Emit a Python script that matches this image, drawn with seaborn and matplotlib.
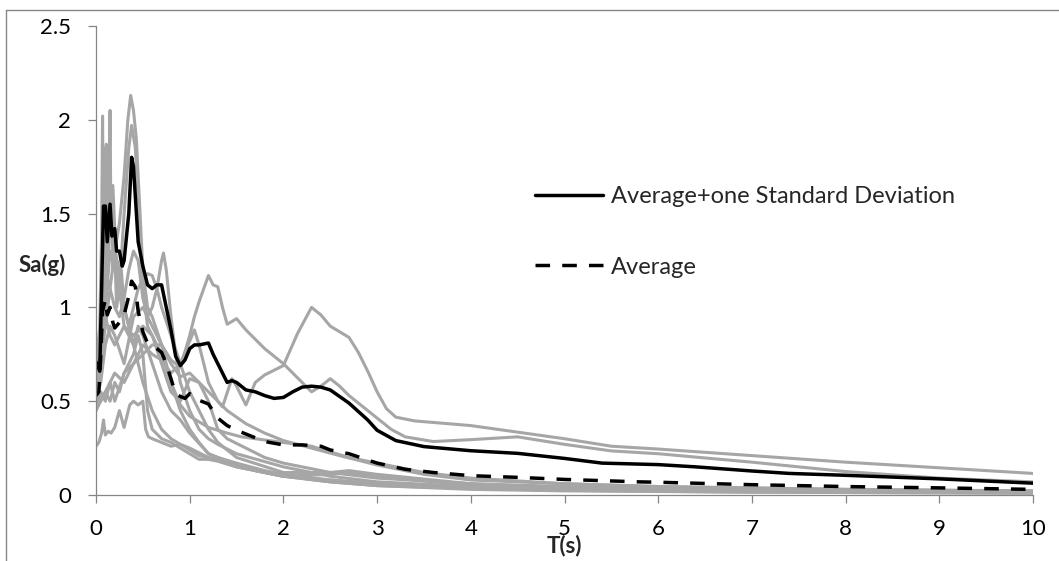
import numpy as np
import pandas as pd
import matplotlib
matplotlib.use('Agg')
import matplotlib.pyplot as plt
from matplotlib.lines import Line2D
from matplotlib.ticker import FuncFormatter
import seaborn as sns

# 개별 기록 스펙트럼 (회색)
rec_a_t = [0, 0.05, 0.1, 0.15, 0.2, 0.25, 0.3, 0.34, 0.37, 0.4, 0.43, 0.47, 0.5, 0.55, 0.6, 0.7, 0.8, 0.9,
           1.0, 1.1, 1.2, 1.3, 1.5, 1.8, 2.0, 2.5, 3.0, 4, 5, 6, 8, 10]
rec_a_sa = [0.6, 0.9, 1.2, 1.1, 1.3, 1.45, 1.7, 2.0, 2.13, 2.05, 1.9, 1.5, 1.2, 1.0, 0.95, 0.8, 0.6, 0.45,
            0.35, 0.28, 0.22, 0.2, 0.17, 0.13, 0.11, 0.08, 0.06, 0.04, 0.03, 0.025, 0.018, 0.013]

rec_b_t = [0, 0.05, 0.1, 0.15, 0.2, 0.25, 0.3, 0.35, 0.38, 0.42, 0.46, 0.5, 0.55, 0.6, 0.7, 0.8, 0.9, 1.0,
           1.1, 1.2, 1.3, 1.4, 1.6, 1.8, 2.0, 2.5, 3.0, 4, 5, 6, 8, 10]
rec_b_sa = [0.5, 0.7, 1.0, 1.3, 1.2, 1.1, 1.5, 1.85, 1.97, 1.85, 1.5, 1.1, 0.9, 0.85, 0.7, 0.55, 0.5, 0.62,
            0.6, 0.5, 0.35, 0.3, 0.25, 0.2, 0.17, 0.12, 0.09, 0.06, 0.045, 0.035, 0.025, 0.02]

rec_c_t = [0, 0.02, 0.04, 0.06, 0.07, 0.08, 0.09, 0.1, 0.11, 0.12, 0.13, 0.14, 0.15, 0.16, 0.17, 0.18, 0.2,
           0.22, 0.25, 0.3, 0.35, 0.4, 0.45, 0.5, 0.6, 0.7, 0.8, 0.9, 1.0, 1.2, 1.5, 2, 3, 4, 6, 8, 10]
rec_c_sa = [0.7, 0.8, 0.9, 1.4, 2.02, 1.3, 1.85, 1.2, 1.6, 1.1, 1.3, 1.7, 2.05, 1.4, 1.6, 1.2, 1.3,
            1.0, 1.1, 0.9, 0.85, 0.8, 0.7, 0.6, 0.45, 0.35, 0.3, 0.27, 0.25, 0.2, 0.15, 0.1, 0.06, 0.04, 0.025,
            0.018, 0.012]

rec_d_t = [0, 0.05, 0.1, 0.15, 0.2, 0.25, 0.3, 0.35, 0.4, 0.45, 0.5, 0.55, 0.6, 0.65, 0.7, 0.72, 0.75, 0.8,
           0.85, 0.9, 1.0, 1.1, 1.2, 1.3, 1.5, 2, 2.5, 3, 4, 5, 7, 10]
rec_d_sa = [0.55, 0.7, 0.9, 1.1, 1.0, 0.95, 1.05, 1.2, 1.3, 1.25, 1.05, 0.95, 1.0, 1.1, 1.25, 1.29, 1.2, 0.95,
            0.75, 0.6, 0.45, 0.35, 0.3, 0.27, 0.22, 0.15, 0.1, 0.07, 0.045, 0.035, 0.025, 0.015]

rec_e_t = [0, 0.05, 0.1, 0.15, 0.2, 0.25, 0.3, 0.35, 0.4, 0.45, 0.5, 0.55, 0.6, 0.65, 0.7, 0.8, 0.9, 1.0,
           1.1, 1.2, 1.3, 1.5, 2, 2.5, 2.7, 3, 4, 5, 7, 10]
rec_e_sa = [0.5, 0.8, 1.2, 1.5, 1.3, 1.2, 1.0, 0.9, 1.0, 1.1, 1.15, 1.18, 1.17, 1.1, 1.0, 0.85, 0.7, 0.55,
            0.45, 0.35, 0.28, 0.2, 0.12, 0.12, 0.13, 0.11, 0.06, 0.04, 0.025, 0.015]

rec_f_t = [0, 0.05, 0.1, 0.15, 0.2, 0.3, 0.4, 0.5, 0.6, 0.7, 0.8, 0.9, 1.0, 1.05, 1.1, 1.2, 1.25, 1.3, 1.35,
           1.4, 1.5, 1.6, 1.8, 2.0, 2.2, 2.3, 2.4, 2.5, 2.6, 2.7, 2.85, 3.0, 3.15, 3.3, 3.6, 4.0, 4.5, 5.0,
           5.5, 6, 7, 8, 9, 10]
rec_f_sa = [0.45, 0.5, 0.55, 0.6, 0.5, 0.65, 0.7, 0.75, 0.8, 0.8, 0.72, 0.68, 0.85, 0.95, 1.03, 1.17, 1.12,
            1.11, 1.0, 0.91, 0.94, 0.88, 0.78, 0.7, 0.6, 0.55, 0.58, 0.62, 0.58, 0.53, 0.47, 0.41, 0.35,
            0.31, 0.285, 0.295, 0.31, 0.27, 0.235, 0.22, 0.175, 0.125, 0.09, 0.07]

rec_g_t = [0, 0.05, 0.1, 0.15, 0.2, 0.3, 0.4, 0.5, 0.6, 0.7, 0.8, 0.9, 1.0, 1.05, 1.1, 1.2, 1.3, 1.35, 1.45,
           1.5, 1.6, 1.7, 1.8, 2.0, 2.15, 2.3, 2.4, 2.5, 2.7, 2.8, 2.9, 3.0, 3.1, 3.2, 3.4, 4.0, 4.5, 5.0,
           5.5, 6, 7, 8, 9, 10]
rec_g_sa = [0.45, 0.55, 0.5, 0.6, 0.65, 0.6, 0.7, 0.8, 0.75, 0.72, 0.65, 0.7, 0.82, 0.88, 0.8, 0.6, 0.5,
            0.47, 0.62, 0.58, 0.48, 0.6, 0.64, 0.69, 0.86, 1.0, 0.96, 0.9, 0.84, 0.76, 0.66, 0.55, 0.46,
            0.415, 0.395, 0.37, 0.335, 0.30, 0.26, 0.245, 0.21, 0.175, 0.145, 0.115]

rec_h_t = [0, 0.03, 0.06, 0.08, 0.1, 0.13, 0.16, 0.2, 0.25, 0.3, 0.33, 0.36, 0.4, 0.45, 0.5, 0.53, 0.56, 0.6,
           0.7, 0.8, 0.9, 1.0, 1.1, 1.2, 1.3, 1.5, 1.8, 2, 2.5, 2.7, 3, 4, 5, 7, 10]
rec_h_sa = [0.26, 0.28, 0.33, 0.4, 0.32, 0.34, 0.33, 0.36, 0.45, 0.36, 0.42, 0.48, 0.5, 0.48, 0.5, 0.35,
            0.31, 0.3, 0.28, 0.26, 0.27, 0.24, 0.21, 0.2, 0.19, 0.16, 0.12, 0.1, 0.11, 0.12, 0.1, 0.05,
            0.035, 0.025, 0.015]

rec_i_t = [0, 0.05, 0.1, 0.15, 0.2, 0.25, 0.3, 0.35, 0.4, 0.45, 0.5, 0.55, 0.6, 0.7, 0.8, 0.9, 1.0, 1.1,
           1.2, 1.3, 1.5, 2.0, 2.5, 3.0, 4, 5, 7, 10]
rec_i_sa = [0.48, 0.5, 0.55, 0.5, 0.6, 0.55, 0.65, 0.7, 0.75, 0.85, 0.75, 0.45, 0.35, 0.3, 0.28, 0.25, 0.22,
            0.19, 0.19, 0.18, 0.15, 0.1, 0.07, 0.05, 0.035, 0.025, 0.015, 0.01]

rec_j_t = [0, 0.03, 0.06, 0.09, 0.11, 0.13, 0.15, 0.18, 0.21, 0.24, 0.27, 0.3, 0.35, 0.4, 0.45, 0.5, 0.6,
           0.7, 0.8, 0.9, 1.0, 1.2, 1.4, 1.7, 2.0, 2.5, 3, 4, 5, 7, 10]
rec_j_sa = [0.65, 0.75, 1.1, 1.5, 1.87, 1.2, 1.5, 1.65, 1.3, 1.1, 1.2, 1.0, 0.9, 0.8, 0.9, 0.85, 0.7, 0.55,
            0.45, 0.4, 0.33, 0.22, 0.18, 0.13, 0.1, 0.07, 0.05, 0.03, 0.022, 0.015, 0.01]

rec_k_t = [0, 0.05, 0.1, 0.15, 0.2, 0.3, 0.4, 0.5, 0.6, 0.7, 0.8, 0.9, 1.0, 1.1, 1.2, 1.4, 1.6, 1.8, 2.0,
           2.3, 2.6, 3.0, 3.5, 4, 5, 6, 8, 10]
rec_k_sa = [0.5, 0.6, 0.8, 0.9, 0.85, 0.7, 0.95, 1.0, 0.9, 0.8, 0.7, 0.63, 0.65, 0.6, 0.55, 0.45, 0.38,
            0.33, 0.29, 0.25, 0.21, 0.16, 0.11, 0.08, 0.06, 0.045, 0.03, 0.022]

rec_l_t = [0, 0.05, 0.1, 0.15, 0.2, 0.3, 0.4, 0.5, 0.6, 0.7, 0.8, 0.9, 1.0, 1.2, 1.4, 1.55, 2.0, 2.3, 2.7,
           3.0, 3.5, 4, 5, 6, 8, 10]
rec_l_sa = [0.6, 0.75, 0.95, 0.85, 0.8, 0.9, 0.85, 0.9, 0.85, 0.75, 0.6, 0.48, 0.42, 0.36, 0.33, 0.31, 0.28,
            0.26, 0.2, 0.17, 0.12, 0.09, 0.06, 0.045, 0.03, 0.02]

# 평균 + 표준편차 (검은 실선)
std_t = [0, 0.04, 0.06, 0.08, 0.1, 0.12, 0.15, 0.17, 0.2, 0.22, 0.25, 0.28, 0.3, 0.35, 0.38, 0.4, 0.45,
         0.5, 0.55, 0.6, 0.65, 0.7, 0.75, 0.8, 0.85, 0.9, 0.95, 1.0, 1.05, 1.1, 1.2, 1.25, 1.3, 1.35, 1.4,
         1.45, 1.5, 1.6, 1.7, 1.8, 1.9, 2.0, 2.1, 2.2, 2.3, 2.4, 2.5, 2.7, 2.9, 3.0, 3.2, 3.5, 4.0, 4.5, 5.0,
         5.4, 6.0, 6.4, 7.0, 7.4, 8.0, 9.0, 10.0]
std_sa = [0.71, 0.66, 1.1, 1.54, 1.54, 1.35, 1.55, 1.38, 1.42, 1.30, 1.30, 1.22, 1.25, 1.5, 1.80, 1.75,
          1.35, 1.22, 1.12, 1.10, 1.12, 1.12, 1.0, 0.88, 0.74, 0.69, 0.72, 0.78, 0.80, 0.80, 0.81, 0.75, 0.70,
          0.65, 0.60, 0.61, 0.60, 0.56, 0.55, 0.53, 0.515, 0.52, 0.55, 0.575, 0.58, 0.575, 0.56, 0.49, 0.40,
          0.345, 0.29, 0.258, 0.236, 0.222, 0.195, 0.17, 0.162, 0.15, 0.128, 0.115, 0.105, 0.086, 0.063]

# 평균 (검은 점선)
avg_t = [0, 0.03, 0.05, 0.07, 0.1, 0.12, 0.15, 0.18, 0.2, 0.25, 0.3, 0.35, 0.38, 0.42, 0.45, 0.5, 0.55,
         0.6, 0.65, 0.7, 0.75, 0.8, 0.85, 0.9, 0.95, 1.0, 1.05, 1.1, 1.2, 1.3, 1.4, 1.5, 1.6, 1.8, 2.0, 2.2,
         2.4, 2.5, 2.7, 3.0, 3.3, 3.6, 4.0, 4.5, 5.0, 5.8, 6.0, 7.0, 8.0, 9.0, 10.0]
avg_sa = [0.53, 0.55, 0.73, 0.98, 1.04, 0.96, 1.0, 0.92, 0.89, 0.92, 0.96, 1.06, 1.14, 1.11, 0.98, 0.87,
          0.81, 0.795, 0.78, 0.76, 0.70, 0.62, 0.54, 0.525, 0.515, 0.54, 0.515, 0.505, 0.485, 0.41, 0.37,
          0.345, 0.325, 0.285, 0.267, 0.267, 0.26, 0.24, 0.22, 0.17, 0.137, 0.12, 0.103, 0.094, 0.083,
          0.07, 0.068, 0.055, 0.045, 0.038, 0.03]

records = [
    (rec_a_t, rec_a_sa), (rec_b_t, rec_b_sa), (rec_c_t, rec_c_sa), (rec_d_t, rec_d_sa),
    (rec_e_t, rec_e_sa), (rec_f_t, rec_f_sa), (rec_g_t, rec_g_sa), (rec_h_t, rec_h_sa),
    (rec_i_t, rec_i_sa), (rec_j_t, rec_j_sa), (rec_k_t, rec_k_sa), (rec_l_t, rec_l_sa),
]
df = pd.concat(
    [pd.DataFrame({'T': t, 'Sa': sa, 'rec': i}) for i, (t, sa) in enumerate(records)],
    ignore_index=True,
)

sns.set_style('white')
plt.rcParams['font.family'] = ['Lato', 'DejaVu Sans']

W, H = 1059, 561
fig = plt.figure(figsize=(W / 100, H / 100), dpi=100)
ax = fig.add_axes([96 / W, 1 - 495 / H, (1033 - 96) / W, (495 - 26) / H])

gray = '#a6a6a6'
dash = (0, (4.2, 3.5))
sns.lineplot(data=df, x='T', y='Sa', units='rec', estimator=None, color=gray,
             lw=2.2, sort=False, ax=ax, legend=False)
sns.lineplot(x=std_t, y=std_sa, color='black', lw=2.5, ax=ax, estimator=None, sort=False)
sns.lineplot(x=avg_t, y=avg_sa, color='black', lw=2.5, ax=ax, estimator=None, sort=False,
             linestyle=dash)

ax.set_xlim(0, 10)
ax.set_ylim(0, 2.5)
ax.set_xticks(range(0, 11))
ax.set_yticks([0, 0.5, 1, 1.5, 2, 2.5])
ax.yaxis.set_major_formatter(FuncFormatter(lambda v, p: f'{v:g}'))

for s in ['top', 'right']:
    ax.spines[s].set_visible(False)
for s in ['left', 'bottom']:
    ax.spines[s].set_color('#868686')
    ax.spines[s].set_linewidth(0.9)

ax.tick_params(axis='both', direction='out', length=6, width=0.9, color='#868686',
               labelsize=16, labelcolor='black')
ax.tick_params(axis='x', pad=11, bottom=True)
ax.tick_params(axis='y', pad=12, left=True)

ax.set_xlabel('T(s)', fontsize=16, fontweight='bold', va='center')
ax.xaxis.set_label_coords(0.5, -(546 - 495) / (495 - 26))
ax.set_ylabel('Sa(g)', fontsize=16, fontweight='bold', rotation=0, ha='center', va='center')
ax.yaxis.set_label_coords(-(96 - 42) / (1033 - 96), (495 - 265) / (495 - 26))

handles = [
    Line2D([], [], color='black', lw=2.5),
    Line2D([], [], color='black', lw=2.5, linestyle=dash),
]
ax.legend(handles, ['Average+one Standard Deviation', 'Average'], frameon=False,
          loc='upper left', bbox_to_anchor=(535 / W, 1 - 186 / H), bbox_transform=fig.transFigure,
          fontsize=17, handlelength=2.9, handletextpad=0.3, labelspacing=2.1,
          borderpad=0, borderaxespad=0)

# 차트 영역 테두리 (왼쪽, 위쪽)
fig.add_artist(Line2D([6 / W, 6 / W], [0, 1 - 10 / H], color='#868686', lw=1.0))
fig.add_artist(Line2D([6 / W, 1], [1 - 10 / H, 1 - 10 / H], color='#868686', lw=1.0))

fig.savefig('out.png', dpi=100)
